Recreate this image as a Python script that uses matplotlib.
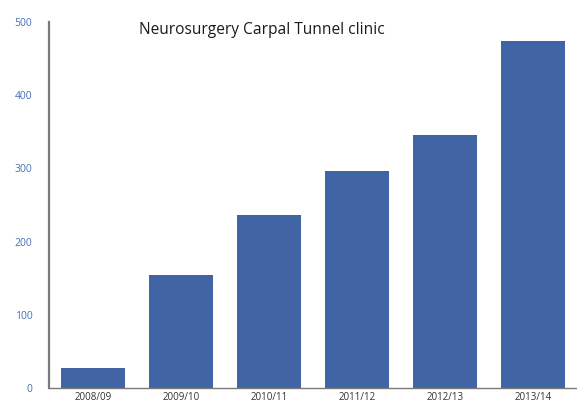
import matplotlib
matplotlib.use("Agg")
import matplotlib.pyplot as plt

years = ["2008/09", "2009/10", "2010/11", "2011/12", "2012/13", "2013/14"]
patients = [28, 155, 236, 296, 346, 474]
yticks = [0, 100, 200, 300, 400, 500]

plt.rcParams["font.family"] = ["Open Sans", "DejaVu Sans"]

fig = plt.figure(figsize=(5.77, 4.03), dpi=100)
ax = fig.add_axes([49 / 577, 15 / 403, 1 - 49 / 577, 366 / 403])

ax.bar(range(len(years)), patients, width=0.72, color="#4164a4", zorder=2)
ax.set_xlim(-0.5, len(years) - 0.5)
ax.set_ylim(0, 500)

ax.set_yticks(yticks)
ax.set_yticklabels([str(v) for v in yticks])
ax.set_xticks(range(len(years)))
ax.set_xticklabels(years)
ax.tick_params(axis="y", length=0, pad=12, labelsize=7.5, labelcolor="#4a6fb5")
ax.tick_params(axis="x", length=0, pad=3, labelsize=7, labelcolor="#333333")

for side in ["top", "right"]:
    ax.spines[side].set_visible(False)
ax.spines["left"].set_color("#7a7a7a")
ax.spines["left"].set_linewidth(1.6)
ax.spines["bottom"].set_color("#7a7a7a")
ax.spines["bottom"].set_linewidth(1.0)

fig.text(262 / 577, 1 - 30 / 403, "Neurosurgery Carpal Tunnel clinic",
         ha="center", va="center", fontsize=11.2, color="#1a1a1a")

fig.savefig("out.png", dpi=100)
plt.close(fig)
